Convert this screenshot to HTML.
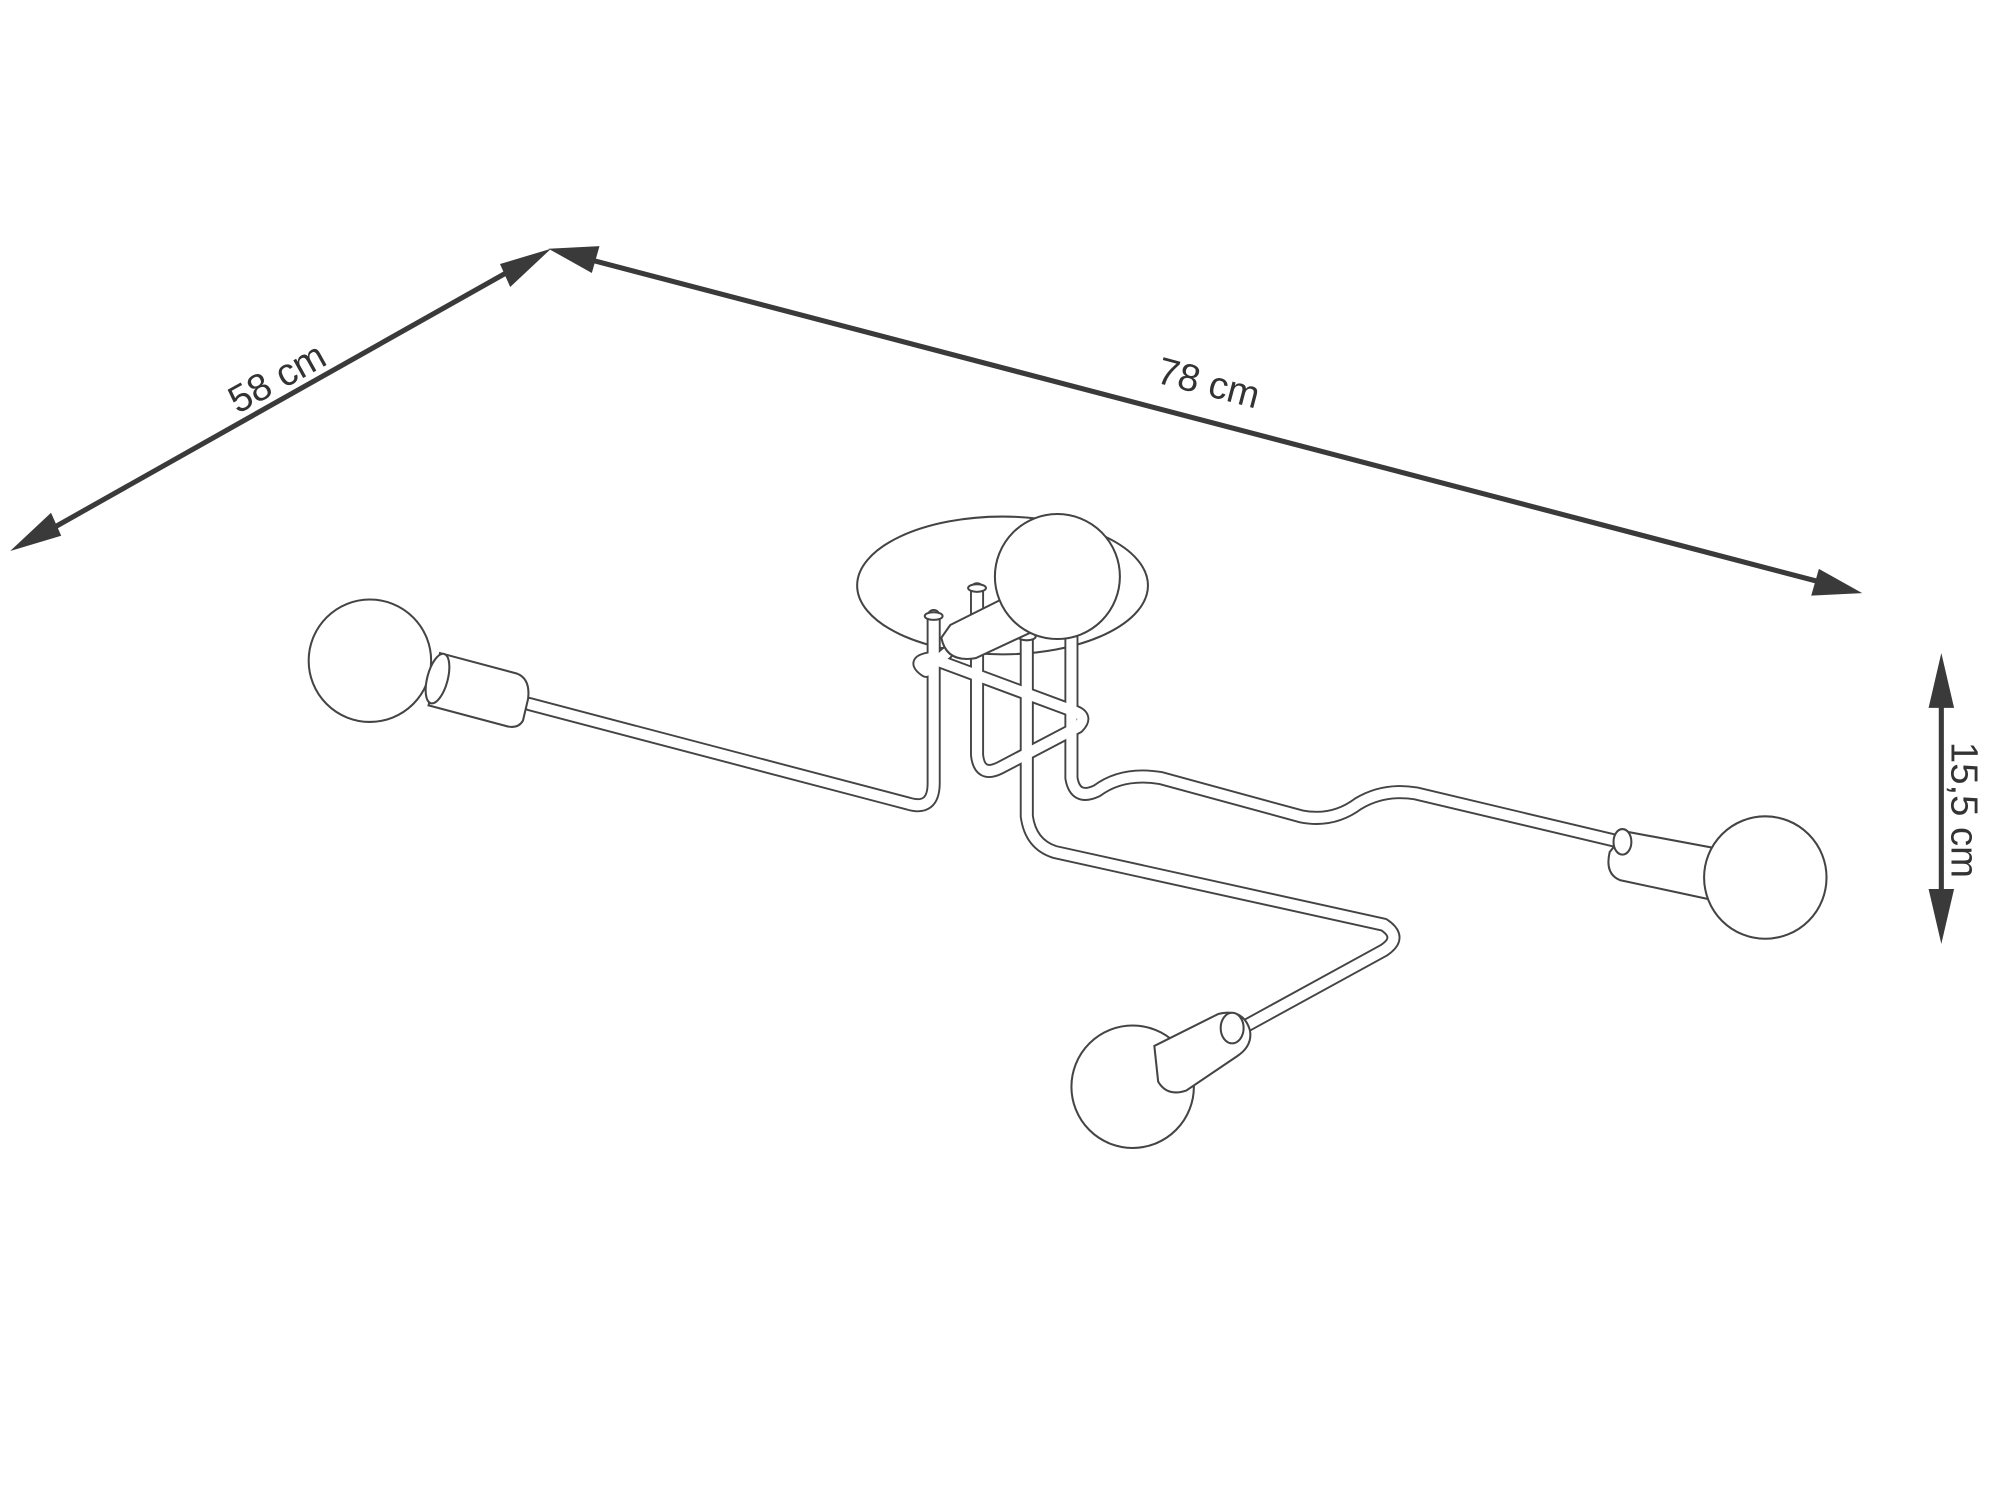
<!DOCTYPE html>
<html><head><style>html,body{margin:0;padding:0;background:#fff}svg{display:block}</style></head>
<body>
<svg width="2000" height="1500" viewBox="0 0 1568 1176" xmlns="http://www.w3.org/2000/svg">
<g fill="#3a3a3a" stroke="#3a3a3a">
<line x1="22" y1="425" x2="418" y2="202" stroke-width="4"/>
<polygon points="8,432 40,402 48,420" stroke="none"/>
<polygon points="432,195 400,225 392,207" stroke="none"/>
<line x1="445" y1="199" x2="1445" y2="461" stroke-width="4"/>
<polygon points="430,195 470,193 464,214" stroke="none"/>
<polygon points="1460,465 1420,467 1426,446" stroke="none"/>
<line x1="1522" y1="530" x2="1522" y2="725" stroke-width="4"/>
<polygon points="1522,512 1512,555 1532,555" stroke="none"/>
<polygon points="1522,740 1512,697 1532,697" stroke="none"/>
</g>
<g font-family="Liberation Sans, sans-serif" font-size="30" fill="#333">
<text transform="translate(222,305) rotate(-29)" text-anchor="middle">58 cm</text>
<text transform="translate(945,310) rotate(14.7)" text-anchor="middle">78 cm</text>
<text transform="translate(1530,635) rotate(90)" text-anchor="middle">15,5 cm</text>
</g>
<ellipse cx="786" cy="459" rx="114" ry="54" fill="#fff" stroke="#444" stroke-width="1.6"/>
<g id="p" fill="none" stroke-linecap="round" stroke-linejoin="round" stroke="#444" stroke-width="11">
<path d="M415,552 L712,630 Q732,636 732,614 L732,483"/>
<path d="M766,462 L766,592 Q768,610 784,602 L845,570 Q853,562 843,558 L730,516 Q714,518 726,526 L742,512"/>
<path d="M840,500 L840,610 Q843,628 860,620 Q880,605 910,610 L1020,640 Q1045,645 1065,630 Q1085,618 1110,622 L1270,660"/>
<path d="M805,500 L805,640 Q808,662 827,668 L1085,725 Q1100,735 1085,745 L970,808"/>
</g>
<g fill="none" stroke-linecap="round" stroke-linejoin="round" stroke="#fff" stroke-width="8">
<path d="M415,552 L712,630 Q732,636 732,614 L732,483"/>
<path d="M766,462 L766,592 Q768,610 784,602 L845,570 Q853,562 843,558 L730,516 Q714,518 726,526 L742,512"/>
<path d="M840,500 L840,610 Q843,628 860,620 Q880,605 910,610 L1020,640 Q1045,645 1065,630 Q1085,618 1110,622 L1270,660"/>
<path d="M805,500 L805,640 Q808,662 827,668 L1085,725 Q1100,735 1085,745 L970,808"/>
</g>
<g fill="#fff" stroke="#444" stroke-width="1.6">
<ellipse cx="732" cy="483" rx="7" ry="3"/>
<ellipse cx="766" cy="461" rx="7" ry="3"/>
<ellipse cx="805" cy="499" rx="7" ry="3"/>
<circle cx="290" cy="518" r="48"/>
<path d="M345,512 L405,528 Q416,532 414,548 L410,565 Q406,572 396,569 L336,553 Z"/>
<ellipse cx="343" cy="532" rx="8" ry="20" transform="rotate(15 343 532)"/>
<path d="M745,490 L795,465 L810,495 L765,516 Q742,520 738,500 Z"/>
<circle cx="829" cy="452" r="49"/>
<path d="M1262,668 L1275,652 L1345,665 L1340,705 L1270,690 Q1258,685 1262,668 Z"/>
<ellipse cx="1272" cy="660" rx="7" ry="10"/>
<circle cx="1384" cy="688" r="48"/>
<circle cx="888" cy="852" r="48"/>
<path d="M905,820 L955,795 Q975,790 980,808 Q982,820 970,828 L930,855 Q915,860 908,848 Z"/>
<ellipse cx="966" cy="806" rx="9" ry="12"/>
</g>
</svg>
</body></html>
